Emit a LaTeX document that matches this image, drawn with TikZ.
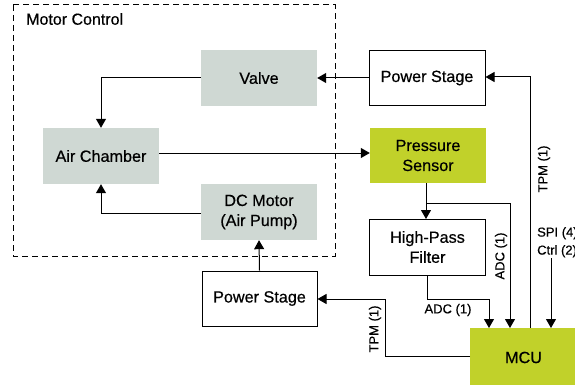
\documentclass[tikz,border=0pt]{standalone}
\usepackage{fontspec}
\setmainfont{Liberation Sans}
\newfontfamily\medfont[FakeBold=0.5]{Liberation Sans}
\usetikzlibrary{arrows.meta,calc}
\definecolor{boxgray}{HTML}{CFD8D3}
\definecolor{boxgreen}{HTML}{C1D12A}
\begin{document}
\begin{tikzpicture}[x=1pt,y=-1pt,
  blk/.style={minimum width=116pt,minimum height=56pt,inner sep=0pt,align=center,font=\medfont\fontsize{16.2}{20}\selectfont},
  graybox/.style={blk,fill=boxgray},
  whitebox/.style={blk,draw=black,line width=1pt,fill=white},
  greenbox/.style={blk,fill=boxgreen},
  conn/.style={line width=1pt,-{Triangle[width=10pt,length=9pt]}},
  lbl/.style={font=\medfont\fontsize{13}{18}\selectfont,inner sep=0pt}
]
\useasboundingbox (0,0) rectangle (575,385);
\draw[line width=1pt,dash pattern=on 6pt off 4pt] (13,5) rectangle (335,256);
\node[anchor=west,font=\medfont\fontsize{16}{18}\selectfont,inner sep=0pt] (title) at (26,19) {Motor Control};

\node[graybox] (valve) at (259,78) {Valve};
\node[graybox] (air) at (101,156) {Air Chamber};
\node[graybox] (dcm) at (259,212) {DC Motor\\(Air Pump)};
\node[whitebox,minimum height=55pt] (ps1) at (427,78) {Power Stage};
\node[greenbox,minimum height=55pt] (sensor) at (428,155.5) {Pressure\\Sensor};
\node[whitebox] (hpf) at (427.5,247) {High-Pass\\Filter};
\node[whitebox,minimum width=115pt,minimum height=55pt] (ps2) at (259.5,298.5) {Power Stage};
\node[greenbox,minimum width=107pt,minimum height=59pt,anchor=north west] (mcu) at (470,328) {};
\node[font=\medfont\fontsize{16.2}{18}\selectfont,inner sep=0pt] (mcut) at (523.5,357.5) {MCU};

% connectors
\draw[conn] (ps1.west) -- (valve.east);
\coordinate (vc) at (101,78);
\draw[conn] (valve.west) -- (vc) -- (air.north);
\coordinate (dc) at (101,213);
\draw[conn] (dcm.west |- dc) -- (dc) -- (air.south);
\coordinate (ac) at (300,153);
\draw[conn] (air.east |- ac) -- (sensor.west |- ac);
\coordinate (stop) at (426,183);
\coordinate (sbot) at (426,219);
\draw[conn] (sensor.south -| stop) -- (sbot);
\coordinate (br) at (426,203);
\coordinate (brr) at (510,203);
\draw[conn] (br) -- (brr) -- (mcu.north -| brr);
\coordinate (hb) at (427,299);
\coordinate (hbr) at (489,299);
\draw[conn] (hpf.south -| hb) -- (hb) -- (hbr) -- (mcu.north -| hbr);
\coordinate (tp) at (530,77);
\draw[conn] (mcu.north -| tp) -- (tp) -- (ps1.east |- tp);
\coordinate (spi) at (551,258);
\draw[conn] (spi) -- (mcu.north -| spi);
\coordinate (mc1) at (385,356);
\coordinate (mc2) at (385,299);
\draw[conn] (mcu.west |- mc1) -- (mc1) -- (mc2) -- (ps2.east |- mc2);
\draw[conn] (ps2.north) -- (dcm.south);

% labels
\node[lbl] (adc1) at (448,310) {ADC (1)};
\node[lbl,rotate=90] (adc2) at (501,256) {ADC (1)};
\node[lbl,rotate=90] (tpm1) at (544,169) {TPM (1)};
\node[lbl,rotate=90] (tpm2) at (375,329) {TPM (1)};
\node[lbl,anchor=north west,align=left] (spit) at (537,227) {SPI (4)\\Ctrl (2)};
\end{tikzpicture}
\end{document}
